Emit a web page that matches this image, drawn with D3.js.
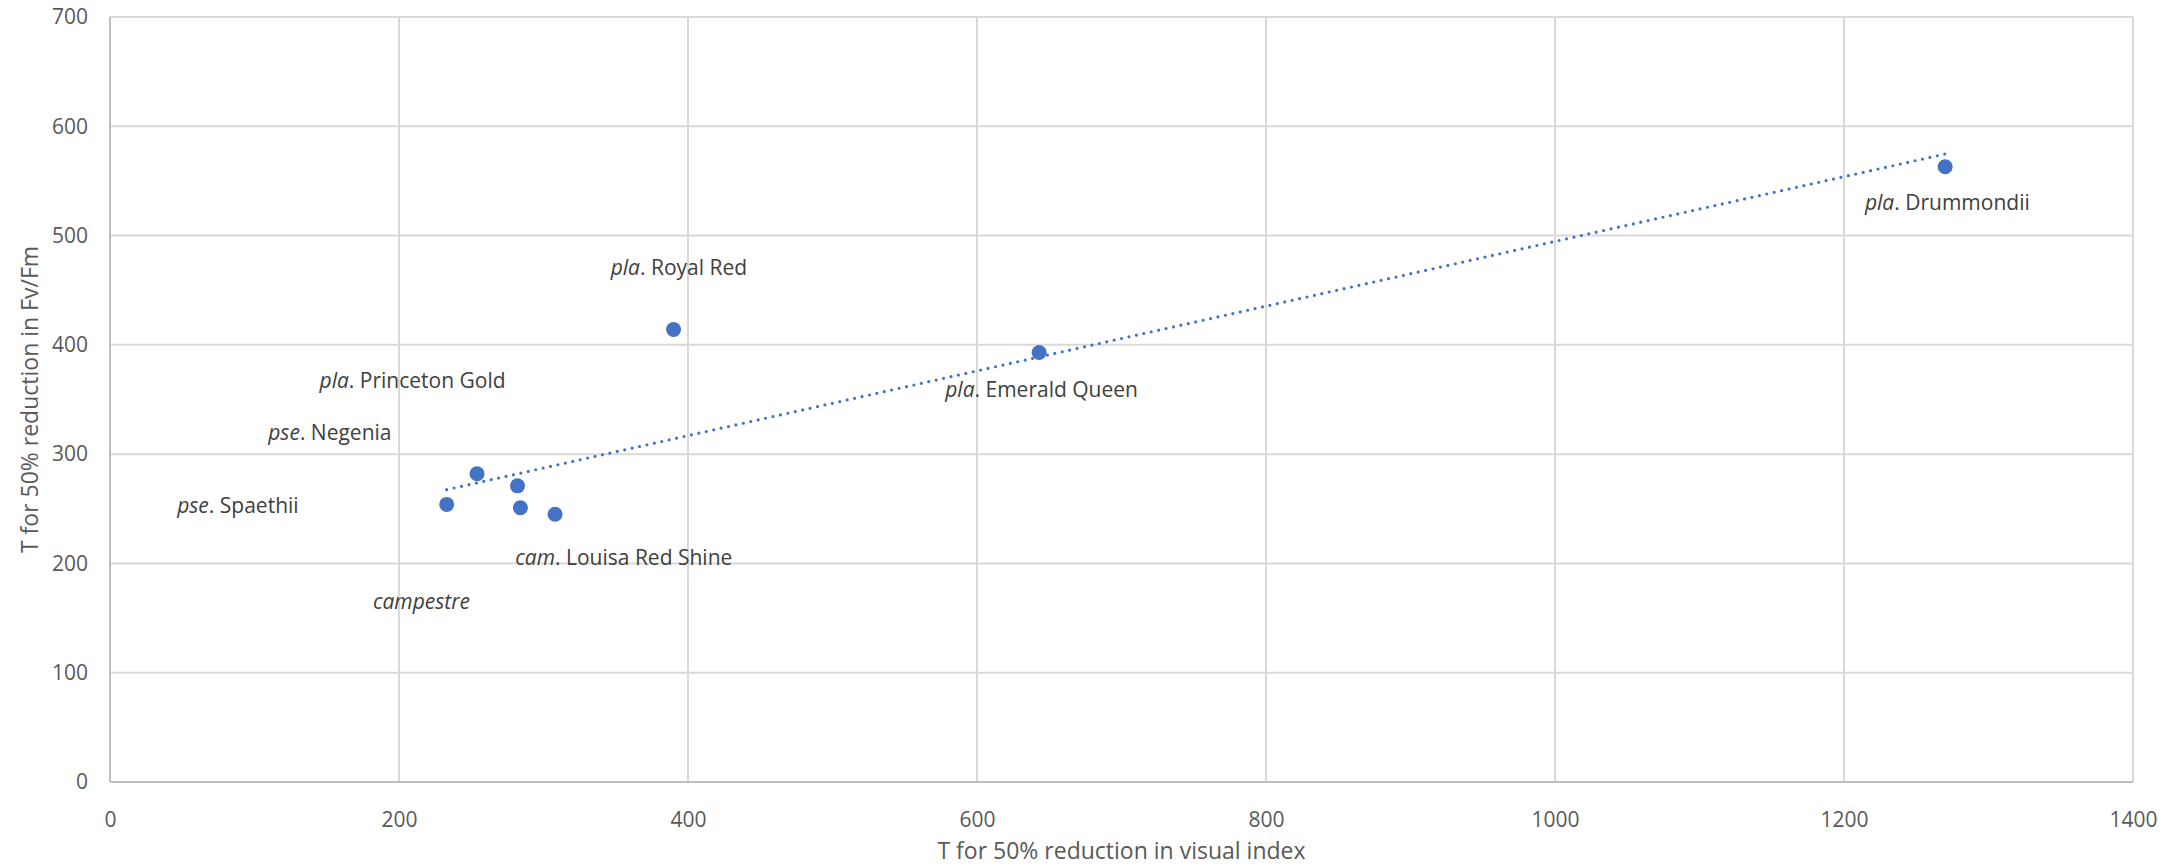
<!DOCTYPE html>
<html>
<head>
<meta charset="utf-8">
<script src="https://cdn.jsdelivr.net/npm/d3@7"></script>
<style>
  html, body { margin: 0; padding: 0; background: #ffffff; }
  svg { display: block; }
  text { font-family: "Open Sans", "Noto Sans", sans-serif; }
</style>
</head>
<body>
<svg id="chart" width="2183" height="866"></svg>
<script>
// Cultivars: genus-prefix (italic) and cultivar name
const prefixes = ["pse", "pse", "pla", "", "cam", "pla", "pla", "pla"];
const names    = ["Spaethii", "Negenia", "Princeton Gold", "campestre", "Louisa Red Shine", "Royal Red", "Emerald Queen", "Drummondii"];

// T for 50% reduction in visual index (x) and in Fv/Fm (y)
const visualT = [233, 254, 282, 284, 308, 390, 643, 1270];
const fvfmT   = [254, 282, 271, 251, 245, 414, 393, 563];

// Where each label sits, in data units (left edge x, middle y)
const labelX = [46.5, 109.5, 145, 182, 280.5, 346.5, 578, 1214.5];
const labelY = [253.5, 320.5, 368, 166, 206, 471.5, 360, 531];

// Axis ticks
const xTicks = [0, 200, 400, 600, 800, 1000, 1200, 1400];
const yTicks = [0, 100, 200, 300, 400, 500, 600, 700];

const xTitle = "T for 50% reduction in visual index";
const yTitle = "T for 50% reduction in Fv/Fm";

const svg = d3.select("#chart");
const plotL = 110, plotR = 2133, plotT = 17, plotB = 782;

const x = d3.scaleLinear().domain([0, 1400]).range([plotL, plotR]);
const y = d3.scaleLinear().domain([0, 700]).range([plotB, plotT]);

const gridColor = "#d9d9d9";
const blue = "#4472c4";

// Gridlines
svg.append("g")
  .selectAll("line")
  .data(xTicks)
  .join("line")
  .attr("x1", d => x(d)).attr("x2", d => x(d))
  .attr("y1", plotT).attr("y2", plotB)
  .attr("stroke", gridColor).attr("stroke-width", 2);

svg.append("g")
  .selectAll("line")
  .data(yTicks)
  .join("line")
  .attr("x1", plotL).attr("x2", plotR)
  .attr("y1", d => y(d)).attr("y2", d => y(d))
  .attr("stroke", gridColor).attr("stroke-width", 2);

// Axis lines (left and bottom slightly darker)
svg.append("line")
  .attr("x1", plotL).attr("x2", plotL).attr("y1", plotT).attr("y2", plotB)
  .attr("stroke", "#bfbfbf").attr("stroke-width", 2);
svg.append("line")
  .attr("x1", plotL).attr("x2", plotR).attr("y1", plotB).attr("y2", plotB)
  .attr("stroke", "#bfbfbf").attr("stroke-width", 2);

// Tick labels via d3 axes, with tick marks hidden
const xAxis = svg.append("g")
  .attr("transform", `translate(0,${plotB})`)
  .call(d3.axisBottom(x).tickValues(xTicks).tickSize(0).tickPadding(30).tickFormat(d3.format("d")));
const yAxis = svg.append("g")
  .attr("transform", `translate(${plotL},0)`)
  .call(d3.axisLeft(y).tickValues(yTicks).tickSize(0).tickPadding(22).tickFormat(d3.format("d")));
[xAxis, yAxis].forEach(g => {
  g.select(".domain").remove();
  g.selectAll("text")
    .attr("fill", "#595959")
    .style("font-family", "'Open Sans', sans-serif")
    .style("font-size", "21px");
});

// Axis titles
svg.append("text")
  .attr("x", (plotL + plotR) / 2)
  .attr("y", 850)
  .attr("text-anchor", "middle")
  .attr("dominant-baseline", "central")
  .attr("fill", "#595959")
  .style("font-size", "23px")
  .text(xTitle);

svg.append("text")
  .attr("transform", `translate(29,${(plotT + plotB) / 2}) rotate(-90)`)
  .attr("text-anchor", "middle")
  .attr("dominant-baseline", "central")
  .attr("fill", "#595959")
  .style("font-size", "23px")
  .text(yTitle);

// Linear trendline (least squares) across the x range of the data
const pts = visualT.map((v, i) => ({ x: v, y: fvfmT[i] }));
const mx = d3.mean(pts, d => d.x), my = d3.mean(pts, d => d.y);
const slope = d3.sum(pts, d => (d.x - mx) * (d.y - my)) / d3.sum(pts, d => (d.x - mx) ** 2);
const intercept = my - slope * mx;
const [xmin, xmax] = d3.extent(visualT);
svg.append("line")
  .attr("x1", x(xmin)).attr("y1", y(intercept + slope * xmin))
  .attr("x2", x(xmax)).attr("y2", y(intercept + slope * xmax))
  .attr("stroke", blue)
  .attr("stroke-width", 3.2)
  .attr("stroke-linecap", "round")
  .attr("stroke-dasharray", "0 7.6");

// Points
svg.append("g")
  .selectAll("circle")
  .data(pts)
  .join("circle")
  .attr("cx", d => x(d.x))
  .attr("cy", d => y(d.y))
  .attr("r", 7.5)
  .attr("fill", blue);

// Data labels: italic prefix + ". " + cultivar name
const labels = svg.append("g")
  .selectAll("text")
  .data(names.map((n, i) => ({ pre: prefixes[i], name: n, lx: labelX[i], ly: labelY[i] })))
  .join("text")
  .attr("x", d => x(d.lx))
  .attr("y", d => y(d.ly))
  .attr("dominant-baseline", "central")
  .attr("fill", "#404040")
  .style("font-size", "21px");

labels.each(function(d) {
  const t = d3.select(this);
  if (d.pre) {
    t.append("tspan").style("font-style", "italic").text(d.pre);
    t.append("tspan").text(". " + d.name);
  } else {
    t.append("tspan").style("font-style", "italic").text(d.name);
  }
});
</script>
</body>
</html>
